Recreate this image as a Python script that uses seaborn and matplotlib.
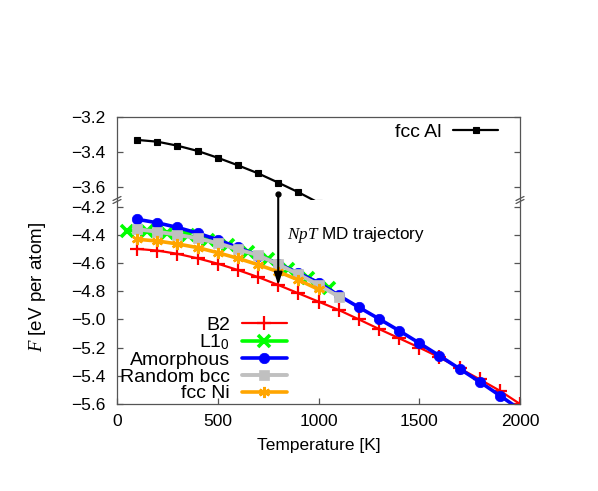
import numpy as np
import pandas as pd
import seaborn as sns
import matplotlib.pyplot as plt
from matplotlib.lines import Line2D

# ----------------------------
# Data
# ----------------------------
temps_b2 = [100, 200, 300, 400, 500, 600, 700, 800, 900, 1000,
            1100, 1200, 1300, 1400, 1500, 1600, 1700, 1800, 1900, 2000]
f_b2 = [-4.500, -4.512, -4.535, -4.567, -4.605, -4.650, -4.700, -4.756, -4.815, -4.874,
        -4.933, -5.000, -5.068, -5.134, -5.200, -5.269, -5.347, -5.425, -5.506, -5.600]

temps_l10 = [50, 150, 250, 350, 450, 550, 650, 750, 850, 950, 1050]
f_l10 = [-4.370, -4.372, -4.385, -4.405, -4.435, -4.475, -4.522, -4.572, -4.640, -4.705, -4.779]

temps_amorph = temps_b2
f_amorph = [-4.290, -4.315, -4.348, -4.388, -4.436, -4.490, -4.547, -4.607, -4.671, -4.740,
            -4.830, -4.914, -4.996, -5.080, -5.168, -5.258, -5.350, -5.443, -5.540, -5.640]

temps_rbcc = [100, 200, 300, 400, 500, 600, 700, 800, 900, 1000, 1100]
f_rbcc = [-4.361, -4.378, -4.400, -4.425, -4.460, -4.503, -4.545, -4.610, -4.680, -4.755, -4.838]

temps_ni = [100, 200, 300, 400, 500, 600, 700, 800, 900, 1000]
f_ni = [-4.432, -4.444, -4.465, -4.491, -4.527, -4.567, -4.612, -4.662, -4.720, -4.787]

temps_al = [100, 200, 300, 400, 500, 600, 700, 800, 900, 1000]
f_al = [-3.331, -3.341, -3.364, -3.394, -3.433, -3.476, -3.522, -3.575, -3.630, -3.690]

# MD trajectory arrow (starts above the break, ends on the B2 curve)
arrow_T = 800
arrow_start_F = -4.113

low_ticks = [-5.6, -5.4, -5.2, -5.0, -4.8, -4.6, -4.4, -4.2]
top_ticks = [-3.6, -3.4, -3.2]
x_ticks = [0, 500, 1000, 1500, 2000]

# ----------------------------
# Style
# ----------------------------
sns.set_theme(style="ticks")
plt.rcParams["font.family"] = ["Liberation Sans", "DejaVu Sans"]
plt.rcParams["mathtext.fontset"] = "custom"
plt.rcParams["mathtext.rm"] = "Liberation Sans"
plt.rcParams["mathtext.it"] = "Liberation Serif:italic"
plt.rcParams["text.color"] = "black"
spine_col = "#555555"

fig = plt.figure(figsize=(5.98, 4.91), dpi=100)
ax_top = fig.add_axes([0.1957, 0.5927, 0.6739, 0.169])
ax_low = fig.add_axes([0.1957, 0.1772, 0.6739, 0.4155])
ax_top.patch.set_alpha(0)

# ----------------------------
# Lower panel
# ----------------------------
series = [
    (temps_b2, f_b2, "B2", "#ff0000", 1.6, "+", 10, 1.6),
    (temps_l10, f_l10, "L1$_{\\mathrm{0}}$", "#00ff00", 2.6, "x", 8.5, 2.6),
    (temps_amorph, f_amorph, "Amorphous", "#0000ff", 2.6, "o", 7.5, 0.5),
    (temps_rbcc, f_rbcc, "Random bcc", "#c0c0c0", 2.8, "s", 6.5, 0.5),
    (temps_ni, f_ni, "fcc Ni", "#ffa500", 2.6, (6, 2, 0), 8, 1.8),
]
for tx, fy, lab, col, lw, mk, ms, mew in series:
    sns.lineplot(x=tx, y=fy, ax=ax_low, color=col, lw=lw, marker=mk,
                 markersize=ms, markeredgewidth=mew, markeredgecolor=col,
                 markerfacecolor=col, label=lab)

ax_low.set_xlim(0, 2000)
ax_low.set_ylim(-5.6, -5.6 + 204 / 141)
ax_low.set_xticks(x_ticks)
ax_low.set_yticks(low_ticks)
ax_low.set_yticklabels([f"{t:.1f}".replace("-", "\u2212") for t in low_ticks])
ax_low.spines["top"].set_visible(False)
ax_low.tick_params(axis="both", direction="in", length=4, width=0.9,
                   color=spine_col, labelcolor="black", labelsize=12.5,
                   right=True, top=False)
ax_low.tick_params(axis="y", pad=8.5)
ax_low.tick_params(axis="x", pad=7)
ax_low.set_xlabel("Temperature [K]", fontsize=12.5, labelpad=7, color="black")
ax_low.set_ylabel("")

leg = ax_low.legend(loc="lower right", bbox_to_anchor=(0.44, -0.03), frameon=False,
                    markerfirst=False, fontsize=14, handlelength=2.3,
                    handletextpad=0.6, labelspacing=-0.05, borderaxespad=0.0)

# trajectory arrow
ax_low.annotate("", xy=(arrow_T, f_b2[temps_b2.index(arrow_T)]),
                xytext=(arrow_T, arrow_start_F), annotation_clip=False,
                arrowprops=dict(arrowstyle="-|>,head_length=0.6,head_width=0.2",
                                color="black", lw=1.5, shrinkA=0, shrinkB=0))
ax_low.plot([arrow_T], [arrow_start_F], marker="o", markersize=3.5,
            color="black", clip_on=False)
ax_low.text(845, -4.40, "$NpT$ MD trajectory", fontsize=12.3, va="center", ha="left")

# ----------------------------
# Upper panel
# ----------------------------
sns.lineplot(x=temps_al, y=f_al, ax=ax_top, color="black", lw=1.6,
             marker="s", markersize=4, markeredgewidth=0.8, markeredgecolor="black",
             label="fcc Al", clip_on=False)
ax_top.set_xlim(0, 2000)
ax_top.set_ylim(-3.2 - 83 / 175, -3.2)
ax_top.set_xticks([])
ax_top.set_yticks(top_ticks)
ax_top.set_yticklabels([f"{t:.1f}".replace("-", "\u2212") for t in top_ticks])
ax_top.spines["bottom"].set_visible(False)
ax_top.tick_params(axis="y", direction="in", length=4, width=0.9,
                   color=spine_col, labelcolor="black", labelsize=12.5,
                   right=True, pad=8.5)
ax_top.set_xlabel("")
ax_top.set_ylabel("")
ax_top.legend(loc="upper right", bbox_to_anchor=(0.965, 1.02), frameon=False,
              markerfirst=False, fontsize=14, handlelength=2.3,
              handletextpad=0.6, borderaxespad=0.0)

for ax in (ax_top, ax_low):
    for s in ax.spines.values():
        s.set_color(spine_col)
        s.set_linewidth(0.9)

# ----------------------------
# Axis break marks and y label
# ----------------------------
W, H = 598, 491
for xp in (117, 520):
    for dy in (-1.5, 1.5):
        fig.add_artist(Line2D([(xp - 4) / W, (xp + 4) / W],
                              [1 - (200 + dy + 2) / H, 1 - (200 + dy - 2) / H],
                              color=spine_col, lw=0.9))

fig.text(38 / W, 1 - 287 / H, "$F$ [eV per atom]", rotation=90,
         fontsize=13.5, ha="center", va="center")

fig.savefig("out.png", dpi=100)
plt.close(fig)
